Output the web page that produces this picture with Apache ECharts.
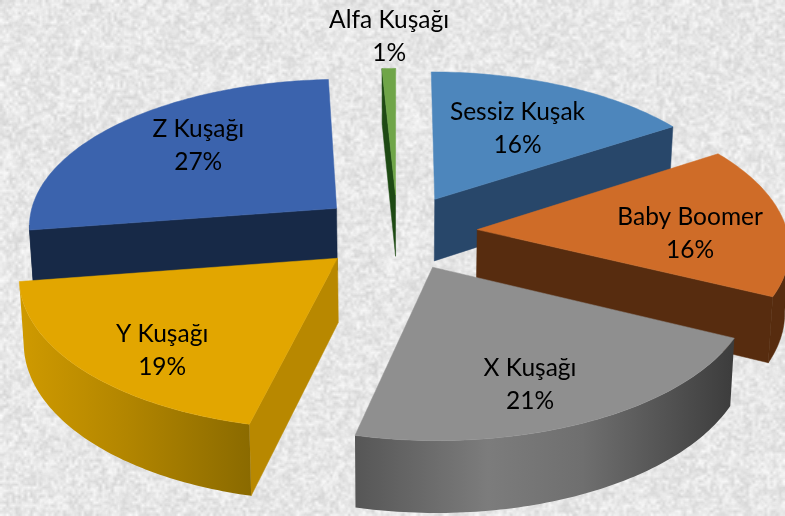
<!DOCTYPE html>
<html>
<head>
<meta charset="utf-8">
<style>html,body{margin:0;padding:0;background:#e8e8e8}#chart{width:785px;height:516px}</style>
<script src="https://cdn.jsdelivr.net/npm/echarts@6/dist/echarts.min.js"></script>
</head>
<body>
<div id="chart"></div>
<script>
// Data
var categories = ['Sessiz Kuşak', 'Baby Boomer', 'X Kuşağı', 'Y Kuşağı', 'Z Kuşağı', 'Alfa Kuşağı'];
var values = [15.8, 16.4, 21.5, 18.9, 26.6, 0.8];
var percentLabels = ['16%', '16%', '21%', '19%', '27%', '1%'];

// Styles
var topColors = ['#4d86bc', '#cf6c28', '#8f8f8f', '#e2a600', '#3b63ad', '#6fa548'];
var cutColors = ['#28476a', '#572c0f', '#555555', '#b88800', '#172947', '#1e4a14'];
var wallStops = [
  null, null,
  [[0, '#565656'], [0.35, '#7c7c7c'], [0.6, '#6f6f6f'], [1, '#3c3c3c']],
  [[0, '#cf9a00'], [0.45, '#b38600'], [1, '#8a6a00']],
  null, null
];
var labelOffsets = [[0.295, 0.53], [0.685, -0.03], [0.275, -0.70], [-0.51, -0.57], [-0.485, 0.46], [-0.025, 1.28]];

// Projection of the exploded 3D pie
var view = {cx: 397.5, cy: 232, radius: 310, explode: 80, tilt: 0.475, persp: 0.105, depth: 63, shrink: 0.012};

function project(X, Y, low) {
  var s = 1 / (1 + view.persp * Y / view.radius);
  var xs = X * s * (low ? 1 - view.shrink : 1);
  return [view.cx + xs, view.cy - view.tilt * Y * s + (low ? view.depth * s : 0)];
}

function sliceAngles() {
  var total = values.reduce(function (a, b) { return a + b; }, 0), acc = 0;
  return values.map(function (v) {
    var a0 = acc / total * Math.PI * 2;
    acc += v;
    return [a0, acc / total * Math.PI * 2];
  });
}
var angles = sliceAngles();

function renderSlice(params) {
  var i = params.dataIndex, a0 = angles[i][0], a1 = angles[i][1], mid = (a0 + a1) / 2;
  var ax = view.explode * Math.sin(mid), ay = view.explode * Math.cos(mid);
  var z = Math.round(-100 * Math.cos(mid)) + 200;
  var steps = Math.max(2, Math.ceil((a1 - a0) / (Math.PI / 180)));
  var topArc = [], lowArc = [];
  for (var k = 0; k <= steps; k++) {
    var t = a0 + (a1 - a0) * k / steps;
    var X = ax + view.radius * Math.sin(t), Y = ay + view.radius * Math.cos(t);
    topArc.push(project(X, Y, false));
    lowArc.push(project(X, Y, true));
  }
  var apexTop = project(ax, ay, false), apexLow = project(ax, ay, true);
  var kids = [];
  function add(points, fill, zz) {
    kids.push({type: 'polygon', z2: zz, shape: {points: points}, style: {fill: fill, stroke: fill, lineWidth: 0.5}});
  }
  // cut faces that look toward the viewer
  var first = topArc[0], last = topArc[steps];
  if (first[0] < apexTop[0] - 4) add([apexTop, first, lowArc[0], apexLow], cutColors[i], z);
  if (apexTop[0] < last[0] - 4) add([last, apexTop, apexLow, lowArc[steps]], cutColors[i], z);
  // outer wall
  var wallTop = [], wallLow = [];
  for (k = 0; k < steps; k++) {
    if (topArc[k + 1][0] < topArc[k][0]) {
      if (!wallTop.length) { wallTop.push(topArc[k]); wallLow.push(lowArc[k]); }
      wallTop.push(topArc[k + 1]); wallLow.push(lowArc[k + 1]);
    }
  }
  if (wallTop.length > 1) {
    var poly = wallTop.concat(wallLow.slice().reverse());
    if (wallStops[i]) {
      kids.push({type: 'polygon', z2: z + 1, shape: {points: poly}, style: {
        fill: {type: 'linear', x: 0, y: 0, x2: 1, y2: 0, colorStops: wallStops[i].map(function (s) { return {offset: s[0], color: s[1]}; })}
      }});
    } else {
      add(poly, cutColors[i], z + 1);
    }
  }
  // top face
  add([apexTop].concat(topArc), topColors[i], z + 2);
  // label
  var off = labelOffsets[i];
  var lp = project(ax + off[0] * view.radius, ay + off[1] * view.radius, false);
  kids.push({
    type: 'text', z2: 900,
    style: {
      x: lp[0], y: lp[1], text: categories[i] + '\n' + percentLabels[i],
      fill: '#000', font: '24.5px Lato, "Open Sans", sans-serif', lineHeight: 33,
      align: 'center', verticalAlign: 'middle'
    }
  });
  return {type: 'group', children: kids};
}

// Paper-like background texture (deterministic hash noise)
function hash(x, y, seed) {
  var n = (x * 374761393 + y * 668265263 + seed * 1442695041) | 0;
  n = Math.imul(n ^ (n >>> 13), 1274126177);
  return ((n ^ (n >>> 16)) >>> 0) / 4294967295;
}
function noiseLayer(w, h, seed, lo, hi) {
  var c = document.createElement('canvas');
  c.width = w; c.height = h;
  var g = c.getContext('2d'), img = g.createImageData(w, h);
  for (var y = 0; y < h; y++) for (var x = 0; x < w; x++) {
    var v = lo + (hi - lo) * hash(x, y, seed), p = (y * w + x) * 4;
    img.data[p] = img.data[p + 1] = img.data[p + 2] = v;
    img.data[p + 3] = 255;
  }
  g.putImageData(img, 0, 0);
  return c;
}
function paperTexture() {
  var c = document.createElement('canvas');
  c.width = 785; c.height = 516;
  var g = c.getContext('2d');
  g.imageSmoothingEnabled = true;
  g.drawImage(noiseLayer(262, 172, 1, 198, 255), 0, 0, 785, 516);
  g.globalAlpha = 0.3;
  g.drawImage(noiseLayer(98, 64, 2, 212, 252), 0, 0, 785, 516);
  g.globalAlpha = 0.3;
  g.drawImage(noiseLayer(392, 258, 3, 220, 255), 0, 0, 785, 516);
  g.globalAlpha = 1;
  return c;
}

var chart = echarts.init(document.getElementById('chart'), null, {renderer: 'canvas'});
chart.setOption({
  animation: false,
  backgroundColor: {image: paperTexture(), repeat: 'no-repeat'},
  series: [{
    type: 'custom',
    coordinateSystem: 'none',
    renderItem: renderSlice,
    data: values.map(function (v, i) { return {name: categories[i], value: v}; })
  }]
});
</script>
</body>
</html>
